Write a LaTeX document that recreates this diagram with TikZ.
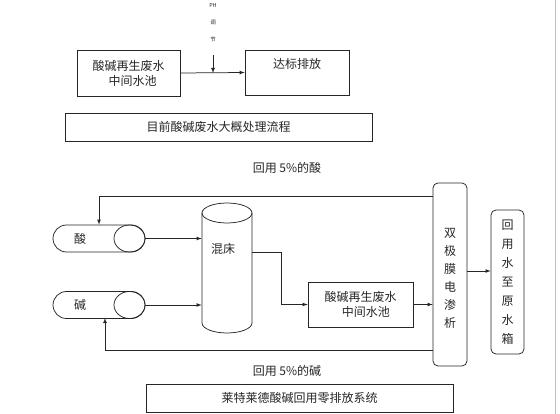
\documentclass[tikz,border=0pt]{standalone}
\usepackage{fontspec}
\setmainfont{Noto Sans CJK SC}
\usetikzlibrary{arrows,positioning,shapes.misc}

\tikzset{
  box/.style={draw,rectangle,inner sep=0pt,align=center},
  rbox/.style={box,rounded corners=5pt},
  tank/.style={draw,rounded rectangle,inner sep=0pt,minimum width=92pt,minimum height=27pt},
}

\begin{document}
\begin{tikzpicture}[x=1pt,y=-1pt,line width=0.75pt,color=black!85,>=latex,font=\fontsize{12}{15}\selectfont]
\useasboundingbox (0,0) rectangle (560,414);
\draw[black!25] (555,0) -- (555,414); % page edge

% old process (top)
\node[box,minimum width=103pt,minimum height=46pt] (pool1) at (128.5,73) {酸碱再生废水\\\hspace*{0.7em}中间水池};
\node[box,minimum width=104pt,minimum height=45pt] (disch) at (297,72.5) {};
\node[below=5pt of disch.north] (dischtxt) {达标排放};
\node[box,minimum width=307pt,minimum height=28pt] (oldtitle) at (218.5,127) {目前酸碱废水大概处理流程};
\draw[->] (pool1.east) -- (disch.west);
\node[font=\fontsize{5.5}{17}\selectfont,align=center] (ph) at (213,23) {PH\\调\\节};
\coordinate (phin) at (213,55);
\draw[->] (phin) -- (phin |- pool1.east);

% new system (bottom)
\foreach \n/\t/\y in {acid/酸/238.5, base/碱/305} % the two tanks
{
\node[tank] (\n) at (99,\y) {};
\draw (129.5,\y) ellipse (15.5 and 13.5);
\node (\n txt) at (80,\y) {\t};
}

% mixed bed
\node[minimum width=50pt,minimum height=120pt,inner sep=0pt] (bed) at (227,273) {};
\draw (202,213) -- (202,323) arc (180:0:25 and 10) -- (252,213);
\draw (227,213) ellipse (25 and 10);
\node (bedtxt) at (223,249) {混床};

\node[box,minimum width=105pt,minimum height=45pt] (pool2) at (360.5,304.5) {酸碱再生废水\\\hspace*{0.9em}中间水池};
\node[rbox,minimum width=34pt,minimum height=183pt,font=\fontsize{12}{18}\selectfont] (bmed) at (450,274.5) {\\[-2pt]双\\极\\膜\\电\\渗\\析};
\node[rbox,minimum width=33pt,minimum height=144pt,font=\fontsize{12}{19}\selectfont] (reuse) at (507.5,282) {回\\用\\水\\至\\原\\水\\箱};
\node[box,minimum width=307pt,minimum height=28pt] (newtitle) at (299.5,398) {莱特莱德酸碱回用零排放系统};

\node (acidlbl) at (287,168) {回用 5\%的酸};
\node (baselbl) at (287,371) {回用 5\%的碱};

% connectors
\draw[->] (acid.east) -- (acid.east -| bed.west);
\draw[->] (base.east) -- (base.east -| bed.west);
\coordinate (bedout) at (252,252);
\draw[->] (bedout) -- ++(29,0) |- (pool2.west);
\draw[->] (pool2.east) -- (pool2.east -| bmed.west);
\coordinate (bmedout) at (467,271);
\draw[->] (bmedout) -- (bmedout -| reuse.west);
\coordinate (acidret) at (433,196);
\draw[->] (acidret) -| (acid.north);
\coordinate (baseret) at (433,350);
\coordinate (basein) at (105,318);
\draw[->] (baseret) -| (basein);
\end{tikzpicture}
\end{document}
